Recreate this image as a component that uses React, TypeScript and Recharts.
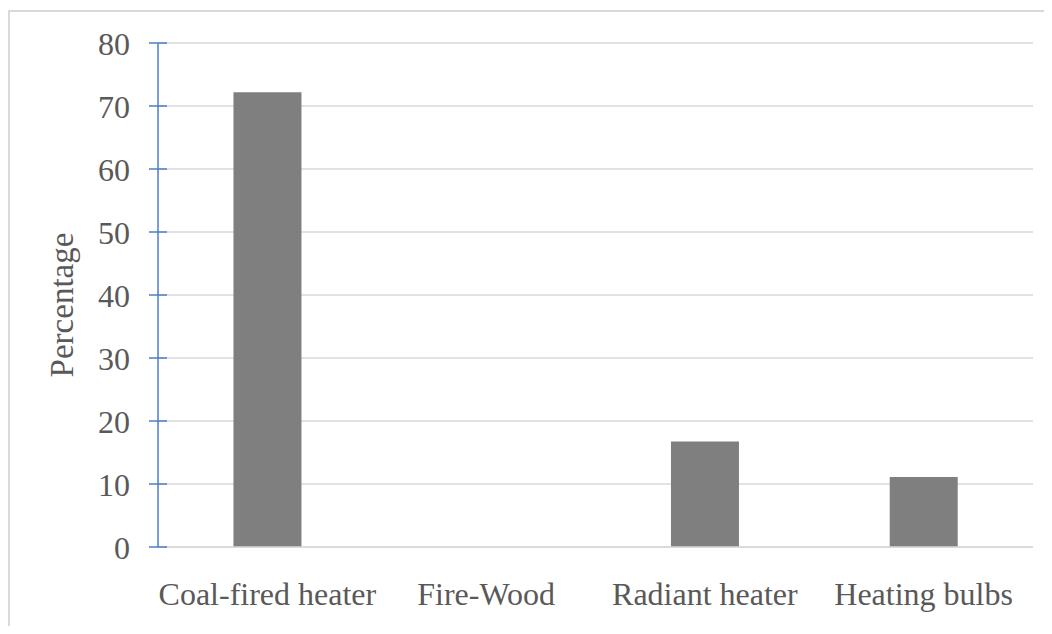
import React from 'react';
import { BarChart, Bar, XAxis, YAxis, CartesianGrid } from 'recharts';

const categories = ['Coal-fired heater', 'Fire-Wood', 'Radiant heater', 'Heating bulbs'];
const percentages = [72.2, 0, 16.75, 11.1];
const yTicks = [0, 10, 20, 30, 40, 50, 60, 70, 80];

const data = categories.map((name, i) => ({ name, value: percentages[i] }));

const FONT = '"Liberation Serif", "Times New Roman", serif';
const TEXT = '#595959';
const BLUE = '#4a7fc6';
const GRID = '#d9d9d9';
const Y_TICK_MARGIN = 28;

const YTick = (props: any) => {
  const { x, y, payload } = props;
  const ax = x + Y_TICK_MARGIN;
  return (
    <g>
      <line x1={ax - 9} x2={ax + 9} y1={y} y2={y} stroke={BLUE} strokeWidth={1.5} />
      <text
        x={x}
        y={y}
        dy="0.36em"
        textAnchor="end"
        fill={TEXT}
        fontSize={32}
        fontFamily={FONT}
      >
        {payload.value}
      </text>
    </g>
  );
};

const XTick = (props: any) => {
  const { x, y, payload } = props;
  return (
    <text x={x} y={y} dy="0.71em" textAnchor="middle" fill={TEXT} fontSize={32} fontFamily={FONT}>
      {payload.value}
    </text>
  );
};

const YLabel = (props: any) => {
  const { viewBox } = props;
  const cx = 54;
  const cy = viewBox.y + viewBox.height / 2 + 10;
  return (
    <text
      x={cx}
      y={cy}
      transform={`rotate(-90 ${cx} ${cy})`}
      textAnchor="middle"
      dominantBaseline="central"
      fill={TEXT}
      fontSize={33}
      fontFamily={FONT}
    >
      Percentage
    </text>
  );
};

export default function App() {
  return (
    <div style={{ position: 'relative', width: 1036, height: 618 }}>
      <div
        style={{
          position: 'absolute',
          left: 0,
          top: 2,
          width: 1036,
          height: 616,
          borderTop: `2px solid ${GRID}`,
          borderLeft: `2px solid ${GRID}`,
          boxSizing: 'border-box',
        }}
      />
      <div style={{ position: 'absolute', left: 0, top: 0 }}>
        <BarChart
          width={1036}
          height={618}
          data={data}
          margin={{ top: 35, right: 11, bottom: 18, left: 0 }}
          barCategoryGap="34.5%"
        >
          <CartesianGrid vertical={false} stroke={GRID} strokeWidth={1.5} />
          <XAxis
            dataKey="name"
            height={61}
            axisLine={{ stroke: GRID, strokeWidth: 1.5 }}
            tickLine={false}
            tickSize={0}
            tickMargin={35}
            tick={<XTick />}
            interval={0}
          />
          <YAxis
            width={150}
            domain={[0, 80]}
            ticks={yTicks}
            interval={0}
            axisLine={{ stroke: BLUE, strokeWidth: 1.5 }}
            tickLine={false}
            tickSize={0}
            tickMargin={Y_TICK_MARGIN}
            tick={<YTick />}
            label={<YLabel />}
          />
          <Bar dataKey="value" fill="#7f7f7f" isAnimationActive={false} />
        </BarChart>
      </div>
    </div>
  );
}
